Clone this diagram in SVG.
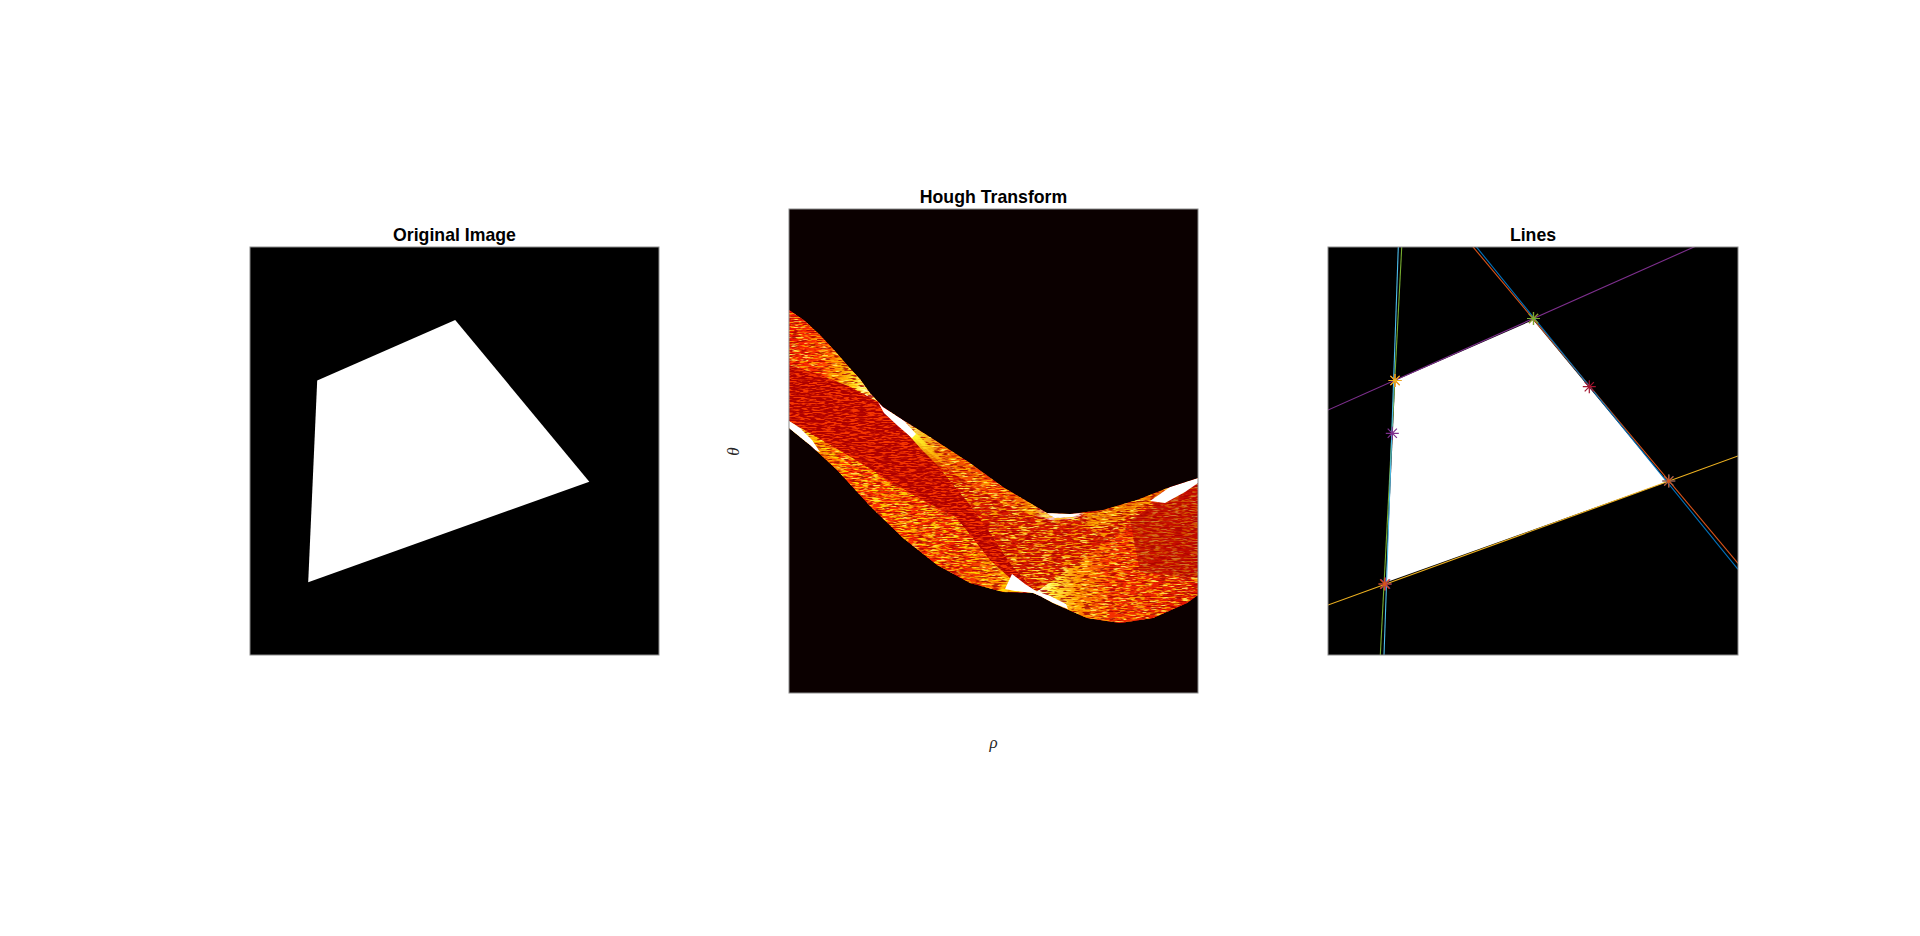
<svg xmlns="http://www.w3.org/2000/svg" width="1920" height="936" viewBox="0 0 1920 936">
<style>
.title{font-family:"Liberation Sans",Arial,Helvetica,sans-serif;font-weight:bold;font-size:17.7px;fill:#000;text-anchor:middle}
.lbl{font-family:"Liberation Serif","Times New Roman",serif;font-style:italic;font-size:17px;fill:#262626;text-anchor:middle}
.frame{fill:none;stroke:#8c8c8c;stroke-width:1}
.ln{fill:none;stroke-width:1.1}
.mk{fill:none;stroke-width:1.2}
.quad{fill:#fff}
</style>
<defs>
<path id="star" d="M-6.5,0H6.5M0,-6.5V6.5M-4.6,-4.6L4.6,4.6M-4.6,4.6L4.6,-4.6"/>
<clipPath id="cR"><rect x="1328" y="247" width="410" height="408"/></clipPath>
<clipPath id="hU"><polygon points="789,310 805,321 820,335 835,351 848,366 860,379 870,393 883,407 903,420 930,437 970,463 1003,487 1030,503 1047,513 1070,514 1103,510 1137,500 1170,487 1198,478 1198,595 1187,603 1153,618 1120,623 1087,618 1053,603 1040,596 1033,593 1003,592 970,583 937,565 903,538 870,506 837,470 810,445 789,428"/></clipPath>
<clipPath id="hB"><polygon points="789,365 820,375 850,387 880,403 900,420 920,445 945,475 970,505 990,533 1012,566 1036,592 1010,578 990,560 956,517 922,500 889,480 856,460 822,440 789,421"/></clipPath>
<clipPath id="hC"><polygon points="789,421 822,440 856,460 889,480 922,500 956,517 990,533 1012,566 1036,592 1003,592 970,583 937,565 903,538 870,506 837,470 810,445 789,440"/></clipPath>
<clipPath id="hE"><polygon points="1130,520 1198,478 1198,578 1140,572"/></clipPath>
<linearGradient id="gA" gradientUnits="userSpaceOnUse" x1="789" y1="0" x2="885" y2="0">
<stop offset="0" stop-color="#f01000"/><stop offset="0.35" stop-color="#ff3a00"/><stop offset="0.55" stop-color="#ff9a00"/><stop offset="0.68" stop-color="#ffe020"/><stop offset="0.78" stop-color="#ffffa0"/><stop offset="0.85" stop-color="#fff"/>
</linearGradient>
<linearGradient id="gC" gradientUnits="userSpaceOnUse" x1="789" y1="0" x2="1037" y2="0">
<stop offset="0" stop-color="#fff"/><stop offset="0.03" stop-color="#ffff60"/><stop offset="0.1" stop-color="#ffa000"/><stop offset="0.22" stop-color="#ff3000"/><stop offset="0.7" stop-color="#f02000"/><stop offset="0.85" stop-color="#ff7000"/><stop offset="0.93" stop-color="#ffd000"/><stop offset="1" stop-color="#fff"/>
</linearGradient>
<linearGradient id="gE" gradientUnits="userSpaceOnUse" x1="1036" y1="0" x2="1198" y2="0">
<stop offset="0" stop-color="#fff"/><stop offset="0.1" stop-color="#ffff50"/><stop offset="0.25" stop-color="#ff9000"/><stop offset="0.45" stop-color="#f53000"/><stop offset="1" stop-color="#e01000"/>
</linearGradient>
<linearGradient id="gT" gradientUnits="userSpaceOnUse" x1="903" y1="0" x2="1085" y2="0">
<stop offset="0" stop-color="#fff"/><stop offset="0.1" stop-color="#ffff40"/><stop offset="0.25" stop-color="#ff7000"/><stop offset="0.55" stop-color="#ff4000"/><stop offset="0.72" stop-color="#ffb000"/><stop offset="0.8" stop-color="#fff"/><stop offset="1" stop-color="#fff"/>
</linearGradient>
<linearGradient id="gY" gradientUnits="userSpaceOnUse" x1="900" y1="418" x2="950" y2="468">
<stop offset="0" stop-color="#fff"/><stop offset="0.3" stop-color="#ffff30"/><stop offset="0.7" stop-color="#ffc000" stop-opacity="0.6"/><stop offset="1" stop-color="#ff8000" stop-opacity="0"/>
</linearGradient>
<filter id="nDark" filterUnits="userSpaceOnUse" x="789" y="300" width="409" height="330">
<feTurbulence type="fractalNoise" baseFrequency="0.12 0.8" numOctaves="2" seed="3"/>
<feColorMatrix type="matrix" values="0 0 0 0 0.4  0 0 0 0 0  0 0 0 0 0  6 0 0 0 -3.1"/>
</filter>
<filter id="nYel" filterUnits="userSpaceOnUse" x="789" y="300" width="409" height="330">
<feTurbulence type="fractalNoise" baseFrequency="0.1 0.7" numOctaves="2" seed="11"/>
<feColorMatrix type="matrix" values="0 0 0 0 1  0 0 0 0 0.9  0 0 0 0 0.1  0 7 0 0 -4"/>
</filter>
<filter id="nYel2" filterUnits="userSpaceOnUse" x="789" y="300" width="409" height="330">
<feTurbulence type="fractalNoise" baseFrequency="0.1 0.7" numOctaves="2" seed="29"/>
<feColorMatrix type="matrix" values="0 0 0 0 1  0 0 0 0 0.8  0 0 0 0 0  0 6 0 0 -3.2"/>
</filter>
<filter id="nOr" filterUnits="userSpaceOnUse" x="789" y="300" width="409" height="330">
<feTurbulence type="fractalNoise" baseFrequency="0.11 0.75" numOctaves="2" seed="5"/>
<feColorMatrix type="matrix" values="0 0 0 0 1  0 0 0 0 0.45  0 0 0 0 0  0 0 7 0 -3.4"/>
</filter>
<filter id="nRed" filterUnits="userSpaceOnUse" x="789" y="300" width="409" height="330">
<feTurbulence type="fractalNoise" baseFrequency="0.12 0.8" numOctaves="2" seed="21"/>
<feColorMatrix type="matrix" values="0 0 0 0 1  0 0 0 0 0.05  0 0 0 0 0  7 0 0 0 -3.1"/>
</filter>
</defs>
<rect width="1920" height="936" fill="#fff"/>

<g id="panel-original">
<text class="title" x="454.5" y="240.5">Original Image</text>
<rect x="250" y="247" width="409" height="408" fill="#000"/>
<polygon class="quad" points="455.2,320 589.3,481.7 308.2,582.2 317.2,380.4"/>
<rect class="frame" x="250" y="247" width="409" height="408"/>
</g>

<g id="panel-hough">
<text class="title" x="993.5" y="202.5">Hough Transform</text>
<rect x="789" y="209" width="409" height="484" fill="#0b0000"/>
<g clip-path="url(#hU)">
<rect x="789" y="300" width="409" height="330" fill="#d81800"/>
<polygon fill="url(#gA)" points="789,300 805,321 820,335 835,351 848,366 860,379 870,393 883,407 880,403 850,387 820,375 789,365"/>
<polygon fill="url(#gC)" points="789,421 822,440 856,460 889,480 922,500 956,517 990,533 1012,566 1036,592 1003,592 970,583 937,565 903,538 870,506 837,470 810,445 789,440"/>
<polygon fill="url(#gE)" points="1036,592 1080,561 1120,533 1160,505 1189,484 1198,478 1198,630 1036,630"/>
<polygon fill="url(#gT)" opacity="0.75" points="903,420 930,437 970,463 1003,487 1030,503 1047,513 1070,514 1085,513 1075,519 1050,520 1025,513 995,500 965,482 935,458 915,438"/>
<polygon fill="#ffb000" opacity="0.6" points="1088,513 1103,510 1137,500 1165,489 1150,503 1125,518 1100,528 1085,525"/>
<rect x="789" y="300" width="409" height="330" filter="url(#nOr)" opacity="0.8"/>
<rect x="789" y="300" width="409" height="330" filter="url(#nYel)" opacity="0.85"/>
<g clip-path="url(#hC)">
<rect x="789" y="300" width="409" height="330" filter="url(#nYel2)" opacity="0.8"/>
</g>
<g clip-path="url(#hB)">
<rect x="789" y="300" width="409" height="330" fill="#b00000"/>
<rect x="789" y="300" width="409" height="330" filter="url(#nRed)" opacity="0.9"/>
</g>
<g clip-path="url(#hE)">
<rect x="1130" y="470" width="70" height="110" fill="#a00000" opacity="0.45"/>
</g>
<rect x="789" y="300" width="409" height="330" filter="url(#nDark)" opacity="0.8"/>
<polygon fill="url(#gY)" points="900,418 916,433 935,452 948,468 938,466 922,450 906,432"/>
<polygon fill="#fff" points="1150,501 1170,487 1198,478 1198,483 1185,492 1165,503"/>
<polygon fill="#fff" points="878,402 883,407 903,420 916,434 912,438 898,426 884,413"/>
<polygon fill="#fff" points="789,421 800,428 812,440 820,452 812,449 800,438 789,428"/>
<polygon fill="#fff" points="1012,574 1025,584 1036,591 1050,596 1066,604 1068,609 1053,603 1040,596 1033,593 1015,591 1005,589"/>
<polygon fill="#fff" points="1035,506 1047,513 1070,514 1082,513 1072,517 1055,518"/>
</g>
<rect class="frame" x="789" y="209" width="409" height="484"/>
<text class="lbl" transform="translate(739,451.5) rotate(-90)">θ</text>
<text class="lbl" x="993.5" y="748">ρ</text>
</g>

<g id="panel-lines">
<text class="title" x="1533" y="240.5">Lines</text>
<rect x="1328" y="247" width="410" height="408" fill="#000"/>
<polygon class="quad" points="1533.2,320 1667.3,481.7 1386.2,582.2 1395.2,380.4"/>
<g id="connectors" clip-path="url(#cR)">
<line class="ln" stroke="#D95319" x1="1470.8" y1="244.3" x2="1738" y2="563.3"/>
<line class="ln" stroke="#0072BD" x1="1474.3" y1="244.3" x2="1738" y2="569.3"/>
<line class="ln" stroke="#7E2F8E" x1="1328" y1="410" x2="1740" y2="226.5"/>
<line class="ln" stroke="#EDB120" x1="1328" y1="605" x2="1738" y2="456"/>
<line class="ln" stroke="#77AC30" x1="1401.9" y1="244" x2="1380.3" y2="655.3"/>
<line class="ln" stroke="#4DBEEE" x1="1398.4" y1="244" x2="1384" y2="655.3"/>
</g>
<g id="markers">
<use href="#star" class="mk" stroke="#D95319" x="1533.5" y="318.5"/>
<use href="#star" class="mk" stroke="#77AC30" x="1533.5" y="318.5"/>
<use href="#star" class="mk" stroke="#D95319" x="1395" y="380.5"/>
<use href="#star" class="mk" stroke="#EDB120" x="1395" y="380.5"/>
<use href="#star" class="mk" stroke="#7E2F8E" x="1392.3" y="433.3"/>
<use href="#star" class="mk" stroke="#A2142F" x="1589.3" y="386.7"/>
<use href="#star" class="mk" stroke="#0072BD" x="1668.8" y="481"/>
<use href="#star" class="mk" stroke="#D95319" x="1668.8" y="481"/>
<use href="#star" class="mk" stroke="#7E2F8E" x="1385.5" y="584"/>
<use href="#star" class="mk" stroke="#D95319" x="1384.7" y="584"/>
</g>
<rect class="frame" x="1328" y="247" width="410" height="408"/>
</g>
</svg>
